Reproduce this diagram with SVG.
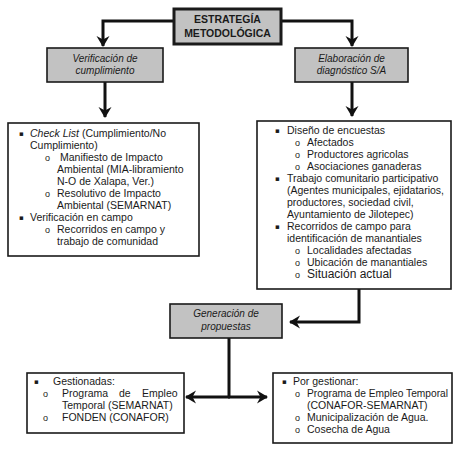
<svg xmlns="http://www.w3.org/2000/svg" width="474" height="452" viewBox="0 0 474 452">
<style>
  text { font-family: "Liberation Sans", Arial, sans-serif; font-size: 10.5px; fill: #1a1a1a; }
  .title { font-weight: bold; font-size: 10.5px; text-anchor: middle; }
  .head { font-style: italic; font-size: 10px; text-anchor: middle; }
  .it { font-style: italic; }
  .bul { font-family: "DejaVu Sans", sans-serif; font-size: 7px; }
  .mk { font-size: 9px; }
  .gray { fill: #c2c2c2; stroke: #1a1a1a; stroke-width: 1.6; }
  .list { fill: #ffffff; stroke: #1a1a1a; stroke-width: 1.6; }
  .conn { fill: none; stroke: #111; stroke-width: 3; }
</style>
<defs>
  <marker id="arr" viewBox="-11 -7 13 14" refX="0" refY="0" markerWidth="13" markerHeight="14" markerUnits="userSpaceOnUse" orient="auto">
    <path d="M-10,-6.5 L1,0 L-10,6.5 L-6.5,0 Z" fill="#111"/>
  </marker>
</defs>

<g id="connectors">
  <path class="conn" d="M173,21 H103 V46" marker-end="url(#arr)"/>
  <path class="conn" d="M282,21 H352 V46" marker-end="url(#arr)"/>
  <path class="conn" d="M105,82 V117" marker-end="url(#arr)"/>
  <path class="conn" d="M352,82 V116" marker-end="url(#arr)"/>
  <path class="conn" d="M359,289 V322 H290" marker-end="url(#arr)"/>
  <path class="conn" d="M229,338 V397"/>
  <path class="conn" d="M230,397 H186" marker-end="url(#arr)"/>
  <path class="conn" d="M228,397 H267" marker-end="url(#arr)"/>
</g>

<g id="estrategia">
  <rect x="174" y="9" width="107" height="35" fill="#c2c2c2" stroke="#1a1a1a" stroke-width="3"/>
  <text class="title" x="227.5" y="23">ESTRATEGÍA</text>
  <text class="title" x="227.5" y="37">METODOLÓGICA</text>
</g>

<g id="verificacion">
  <rect class="gray" x="47" y="48" width="116" height="34"/>
  <text class="head" x="105" y="62">Verificación de</text>
  <text class="head" x="105" y="74">cumplimiento</text>
</g>

<g id="elaboracion">
  <rect class="gray" x="295" y="48" width="113" height="34"/>
  <text class="head" x="351.5" y="62">Elaboración de</text>
  <text class="head" x="351.5" y="74">diagnóstico S/A</text>
</g>

<g id="lista-verificacion">
  <rect class="list" x="8" y="123" width="191" height="133"/>
  <text class="bul" x="19" y="136">▪</text>
  <text x="30" y="137"><tspan class="it">Check List</tspan> (Cumplimiento/No</text>
  <text x="30" y="149">Cumplimiento)</text>
  <text class="mk" x="45" y="161">o</text>
  <text x="60" y="161">Manifiesto de Impacto</text>
  <text x="57" y="173">Ambiental (MIA-libramiento</text>
  <text x="57" y="185">N-O de Xalapa, Ver.)</text>
  <text class="mk" x="45" y="197">o</text>
  <text x="57" y="197">Resolutivo de Impacto</text>
  <text x="57" y="209">Ambiental (SEMARNAT)</text>
  <text class="bul" x="19" y="220">▪</text>
  <text x="30" y="221">Verificación en campo</text>
  <text class="mk" x="45" y="233">o</text>
  <text x="57" y="233">Recorridos en campo y</text>
  <text x="57" y="245">trabajo de comunidad</text>
</g>

<g id="lista-diagnostico">
  <rect class="list" x="257" y="121" width="194" height="168"/>
  <text class="bul" x="275" y="133">▪</text>
  <text x="287" y="134">Diseño de encuestas</text>
  <text class="mk" x="295" y="146">o</text>
  <text x="307" y="146">Afectados</text>
  <text class="mk" x="295" y="158">o</text>
  <text x="307" y="158">Productores agricolas</text>
  <text class="mk" x="295" y="170">o</text>
  <text x="307" y="170">Asociaciones ganaderas</text>
  <text class="bul" x="275" y="181">▪</text>
  <text x="287" y="182">Trabajo comunitario participativo</text>
  <text x="287" y="194">(Agentes municipales, ejidatarios,</text>
  <text x="287" y="206">productores, sociedad civil,</text>
  <text x="287" y="218">Ayuntamiento de Jilotepec)</text>
  <text class="bul" x="275" y="229">▪</text>
  <text x="287" y="230">Recorridos de campo para</text>
  <text x="287" y="242">identificación de manantiales</text>
  <text class="mk" x="295" y="254">o</text>
  <text x="307" y="254">Localidades afectadas</text>
  <text class="mk" x="295" y="266">o</text>
  <text x="307" y="266">Ubicación de manantiales</text>
  <text class="mk" x="295" y="278">o</text>
  <text x="307" y="278" style="font-size:12px">Situación actual</text>
</g>

<g id="generacion">
  <rect class="gray" x="170" y="304" width="112" height="34"/>
  <text class="head" x="226" y="317">Generación de</text>
  <text class="head" x="226" y="330">propuestas</text>
</g>

<g id="gestionadas">
  <rect class="list" x="27" y="373" width="157" height="60"/>
  <text class="bul" x="34" y="384">▪</text>
  <text x="53" y="385">Gestionadas:</text>
  <text class="mk" x="43" y="397">o</text>
  <text x="62" y="397">Programa</text>
  <text x="119" y="397">de</text>
  <text x="142" y="397">Empleo</text>
  <text x="62" y="409">Temporal (SEMARNAT)</text>
  <text class="mk" x="43" y="421">o</text>
  <text x="62" y="421">FONDEN (CONAFOR)</text>
</g>

<g id="por-gestionar">
  <rect class="list" x="273" y="373" width="179" height="70"/>
  <text class="bul" x="282" y="384">▪</text>
  <text x="293" y="385">Por gestionar:</text>
  <text class="mk" x="295" y="397">o</text>
  <text x="307" y="397" textLength="141" lengthAdjust="spacingAndGlyphs">Programa de Empleo Temporal</text>
  <text x="307" y="409">(CONAFOR-SEMARNAT)</text>
  <text class="mk" x="295" y="421">o</text>
  <text x="307" y="421">Municipalización de Agua.</text>
  <text class="mk" x="295" y="433">o</text>
  <text x="307" y="433">Cosecha de Agua</text>
</g>
</svg>
